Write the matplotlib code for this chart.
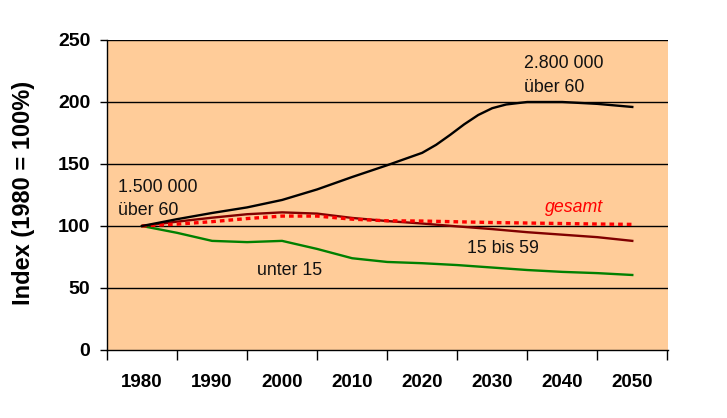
import matplotlib
matplotlib.use("Agg")
import matplotlib.pyplot as plt
from matplotlib.ticker import FixedLocator, NullFormatter, FixedFormatter

plt.rcParams['font.family'] = ['Liberation Sans', 'DejaVu Sans']

years = [1980, 1985, 1990, 1995, 2000, 2005, 2010, 2015, 2020, 2025, 2030, 2035, 2040, 2045, 2050]
bis59 = [100, 103.5, 106.7, 109.5, 111, 110, 106.5, 104, 102, 99.7, 97.5, 95, 93, 91, 88]
gesamt = [100, 101.5, 103.5, 106, 108, 108, 105.5, 104.2, 104, 103.4, 102.8, 102.4, 102, 101.6, 101.3]
unter15 = [100, 94.5, 88, 87, 88, 81.5, 74, 71, 70, 68.5, 66.5, 64.5, 63, 62, 60.5]

years60 = [1980, 1985, 1990, 1995, 2000, 2005, 2010, 2015, 2018, 2020, 2022, 2024, 2026,
           2028, 2030, 2032, 2035, 2040, 2045, 2050]
ueber60 = [100, 105.5, 110.5, 115, 121, 129.5, 139.5, 149, 155, 159, 165.5, 173.5, 182,
           189.5, 195, 198, 200, 200, 198.5, 196]

label_years = [1980, 1990, 2000, 2010, 2020, 2030, 2040, 2050]
y_ticks = [0, 50, 100, 150, 200, 250]

fig = plt.figure(figsize=(7.27, 4.18), dpi=100)
ax = fig.add_axes([107/727, 1-350/418, (668-107)/727, 310/418])
ax.set_facecolor('#FFCC99')

ax.plot(years, unter15, color='#008000', lw=1.7, zorder=3)
ax.plot(years, bis59, color='#800000', lw=1.7, zorder=3)
ax.plot(years, gesamt, color='#FF0000', lw=2.4, dashes=(1.4, 1.2), zorder=4)
ax.plot(years60, ueber60, color='#000000', lw=1.7, zorder=5)

ax.set_xlim(1975, 2055.1)
ax.set_ylim(0, 250)

# y axis
ax.set_yticks(y_ticks)
ax.set_yticklabels([str(v) for v in y_ticks], fontsize=14, fontweight='bold')
ax.tick_params(axis='y', direction='out', length=5, width=1, pad=7)
for v in y_ticks[1:]:
    ax.axhline(v, color='black', lw=1, zorder=2)

# x axis: tick marks between categories, labels at category centres
ax.xaxis.set_major_locator(FixedLocator([1975 + 10*i for i in range(9)]))
ax.xaxis.set_major_formatter(NullFormatter())
ax.xaxis.set_minor_locator(FixedLocator(label_years))
ax.xaxis.set_minor_formatter(FixedFormatter([str(y) for y in label_years]))
ax.tick_params(axis='x', which='major', direction='out', length=7, width=1)
ax.tick_params(axis='x', which='minor', length=0, pad=17, labelsize=13.5)
for lab in ax.xaxis.get_minorticklabels():
    lab.set_fontweight('bold')

for s in ['top', 'right']:
    ax.spines[s].set_visible(False)
ax.spines['left'].set_linewidth(1)
ax.spines['bottom'].set_linewidth(1)

fig.text(24/727, 1-193/418, 'Index (1980 = 100%)', rotation=90, ha='center', va='center',
         fontsize=17, fontweight='bold')

fs = 12.8
ax.text(1976.6, 127.4, '1.500 000', fontsize=fs, va='baseline', ha='left', color='#111111')
ax.text(1976.6, 108.9, 'über 60', fontsize=fs, va='baseline', ha='left', color='#111111')
ax.text(2034.6, 227.4, '2.800 000', fontsize=fs, va='baseline', ha='left', color='#111111')
ax.text(2034.6, 208.0, 'über 60', fontsize=fs, va='baseline', ha='left', color='#111111')
ax.text(2037.6, 111.3, 'gesamt', fontsize=fs, va='baseline', ha='left', color='#FF0000', style='italic')
ax.text(2026.4, 78.2, '15 bis 59', fontsize=fs, va='baseline', ha='left', color='#111111')
ax.text(1996.4, 60.5, 'unter 15', fontsize=fs, va='baseline', ha='left', color='#111111')

fig.savefig('out.png', dpi=100)
